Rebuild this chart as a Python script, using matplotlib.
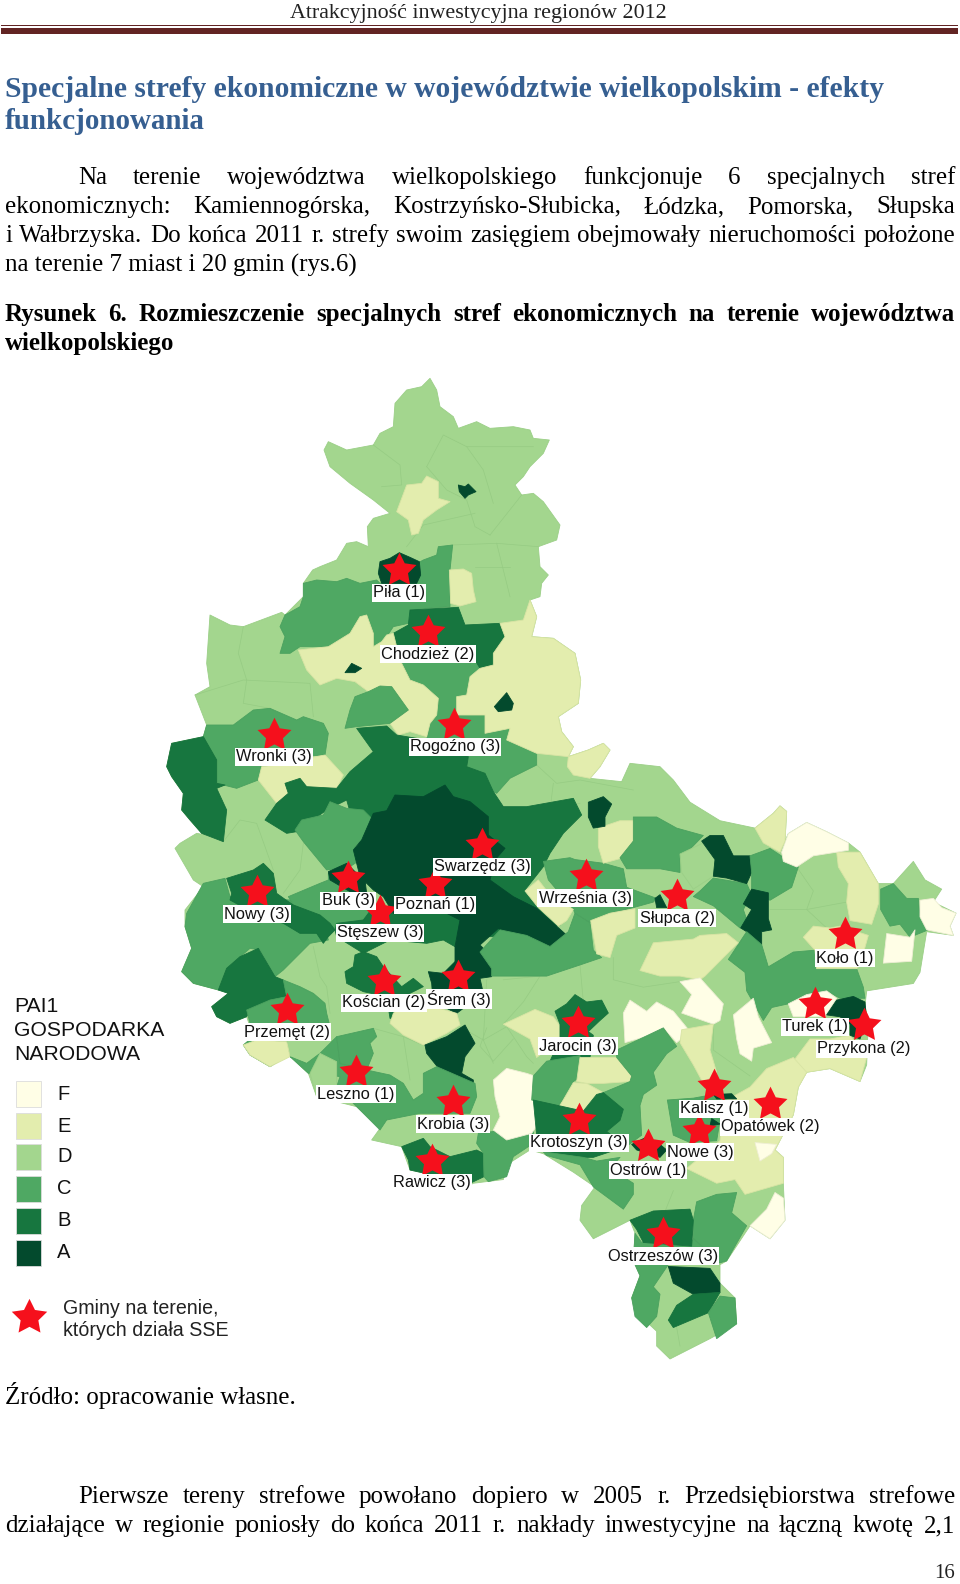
import matplotlib
matplotlib.use("Agg")
import matplotlib.pyplot as plt
from matplotlib.patches import Polygon, Rectangle

# class colours, legend order F..A
class_names = ["F", "E", "D", "C", "B", "A"]
class_colors = {"F": "#fffee6", "E": "#e3edae", "D": "#a3d68e", "C": "#4fa863", "B": "#17763f", "A": "#034a2d"}
edge_colors = {"F": "#eeeed4", "E": "#d8e4a4", "D": "#9bcf87", "C": "#4ba15f", "B": "#16723d", "A": "#034a2d"}

# outline of the voivodeship, traced in three crops of the page
outline_n = [(458,600),(480,590),(530,570),(560,520),(590,515),(625,530),(622,470),(640,445),(690,430),(640,390),(570,340),(510,290),(492,240),(505,215),(560,240),(640,225),(660,190),(700,170),(705,100),(740,60),(785,50),(810,25),(830,60),(840,110),(880,140),(895,175),(950,155),(990,175),(1060,170),(1110,180),(1120,205),(1168,210),(1150,250),(1110,290),(1090,320),(1065,345),(1085,375),(1120,370),(1150,395),(1200,465),(1190,510),(1135,530),(1140,590),(1165,615),(1145,640),(1140,680),(1110,690),(1130,740),(1115,800),(1180,805),(1245,850),(1262,930),(1255,1000),(1195,1040),(1205,1085),(1240,1130),(1225,1160),(1285,1140),(1330,1120),(1350,1140),(1320,1190),(1290,1225),(1385,1235),(1410,1180),(1500,1190)]
outline_e = [(640,0),(690,60),(780,110),(885,130),(940,90),(960,70),(980,85),(975,165),(985,145),(1040,115),(1100,140),(1165,170),(1200,195),(1255,280),(1300,280),(1360,220),(1395,270),(1445,295),(1420,330),(1488,360),(1470,395),(1480,420),(1400,410),(1380,520),(1360,550),(1220,570),(1215,610),(1225,650),(1220,770),(1200,815),(1110,780),(1040,790),(1015,830),(1000,905),(945,1000),(970,1020),(970,1090),(975,1190),(930,1240),(870,1205),(800,1300),(780,1310),(780,1360),(825,1400),(830,1470),(750,1510),(630,1565),(590,1530),(590,1490),(530,1440),(515,1400),(540,1340),(520,1300),(525,1225),(510,1190),(400,1240),(360,1190),(365,1150),(405,1100),(340,1060),(250,1010),(210,1000),(140,1040),(130,1080),(40,1090)]
outline_w = [(930,1215),(840,1190),(750,1170),(725,1100),(635,1080),(660,1045),(590,980),(470,950),(445,880),(385,825),(330,860),(270,825),(250,795),(280,770),(260,710),(210,730),(170,710),(155,680),(205,640),(175,630),(100,610),(65,575),(95,505),(75,440),(75,390),(130,320),(100,300),(45,205),(60,190),(110,160),(165,170)]
outline_nw = [(125,1390),(90,1350),(65,1320),(70,1270),(35,1220),(20,1190),(35,1120),(130,1100),(140,1065),(105,975),(150,950),(140,880),(150,735),(210,765),(250,770),(365,727),(375,735),(430,680),(430,640)]

# gminas in the north crop (160,370, 3x)
north_regions = [
    ("E", [(800,318),(835,335),(835,385),(870,395),(830,420),(790,450),(775,490),(755,495),(745,450),(710,425),(740,345),(785,340)]),
    ("A", [(895,345),(915,350),(925,342),(948,365),(925,375),(915,385),(898,365)]),
    ("C", [(430,640),(470,630),(530,635),(560,625),(600,640),(650,630),(660,640),(790,570),(830,555),(835,530),(878,525),(870,600),(870,710),(800,715),(750,720),(745,760),(700,770),(680,800),(660,825),(640,830),(640,790),(620,735),(600,740),(570,790),(505,830),(420,830),(390,850),(360,850),(375,800),(360,770),(375,735),(420,710),(430,680)]),
    ("A", [(660,575),(690,565),(718,548),(750,562),(778,575),(782,615),(770,640),(665,640),(655,610)]),
    ("E", [(868,600),(910,597),(935,610),(940,660),(948,695),(900,708),(872,700)]),
    ("C", [(720,870),(945,870),(960,895),(930,920),(920,975),(890,980),(890,1035),(975,1035),(975,1090),(1050,1075),(1040,1110),(1130,1150),(1130,1185),(1050,1225),(1010,1270),(1000,1265),(975,1210),(920,1190),(925,1160),(800,1110),(810,1060),(830,1035),(835,985),(790,945),(750,930)]),
    ("B", [(750,720),(895,712),(915,765),(1020,760),(1035,800),(1000,850),(1000,885),(960,895),(945,870),(720,870),(700,790),(745,765)]),
    ("E", [(600,740),(620,735),(640,790),(640,830),(665,815),(680,795),(700,790),(720,870),(750,930),(790,945),(835,985),(830,1035),(810,1060),(800,1100),(750,1085),(715,1095),(690,1060),(745,1020),(695,950),(660,970),(625,965),(585,935),(530,925),(480,945),(440,900),(415,840),(505,830),(570,790)]),
    ("E", [(1110,690),(1130,740),(1115,800),(1180,805),(1245,850),(1262,930),(1255,1000),(1195,1040),(1205,1085),(1240,1130),(1225,1160),(1130,1150),(1040,1110),(1050,1075),(975,1090),(975,1035),(890,1035),(890,980),(920,975),(930,920),(960,895),(1000,885),(1000,850),(1035,800),(1020,760),(1090,750)]),
    ("A", [(1040,968),(1060,1000),(1055,1020),(1015,1025),(1003,1010)]),
    ("A", [(575,880),(605,895),(585,908),(555,908)]),
    ("C", [(660,948),(695,950),(745,1020),(690,1060),(590,1070),(555,1075),(570,1020),(585,980),(625,965)]),
    ("C", [(140,1065),(220,1065),(280,1020),(330,1015),(410,1050),(430,1040),(490,1060),(505,1090),(495,1155),(410,1160),(405,1180),(305,1190),(295,1230),(230,1255),(170,1240),(170,1170),(130,1100)]),
    ("E", [(405,1180),(440,1165),(495,1155),(550,1215),(530,1255),(440,1250),(420,1225),(375,1240),(385,1270),(350,1300),(295,1230),(305,1190)]),
    ("B", [(35,1120),(130,1100),(170,1170),(170,1240),(195,1245),(170,1255),(200,1320),(190,1415),(125,1390),(90,1350),(65,1320),(70,1270),(35,1220),(20,1190)]),
    ("B", [(590,1075),(680,1068),(710,1095),(800,1110),(925,1160),(920,1190),(975,1210),(1000,1265),(1030,1310),(1100,1310),(1240,1285),(1265,1335),(1210,1390),(1170,1450),(1150,1490),(1095,1560),(1130,1610),(1200,1665),(1100,1700),(900,1700),(620,1500),(560,1290),(500,1320),(410,1385),(380,1390),(315,1350),(350,1300),(385,1270),(375,1240),(420,1225),(440,1250),(530,1255),(570,1205),(640,1145)]),
    ("E", [(1225,1160),(1285,1140),(1330,1120),(1350,1140),(1320,1190),(1290,1225),(1240,1215),(1222,1190)]),
]

# gminas in the west crop (160,780, 3x)
west_regions = [
    ("C", [(405,150),(425,120),(490,105),(510,65),(560,85),(610,90),(640,120),(610,175),(585,200),(600,240),(570,260),(500,270),(430,185)]),
    ("C", [(80,400),(130,310),(195,295),(210,350),(390,360),(495,440),(505,480),(450,490),(370,570),(345,590),(300,510),(270,505),(200,565),(175,630),(100,610),(65,575),(95,505),(75,440)]),
    ("C", [(385,350),(480,310),(505,300),(505,280),(620,300),(610,340),(640,380),(610,420),(530,430),(525,450),(510,430),(480,405),(400,375)]),
    ("B", [(200,295),(280,270),(310,250),(340,280),(350,340),(385,365),(400,375),(480,405),(510,430),(525,450),(505,470),(490,490),(470,460),(420,460),(370,430),(300,410),(210,360),(215,340)]),
    ("A", [(505,275),(560,250),(590,280),(615,300),(620,340),(570,335),(510,300)]),
    ("B", [(610,340),(640,370),(700,400),(860,400),(900,420),(885,500),(850,480),(800,490),(690,480),(610,520),(530,470),(525,450),(530,430),(610,420),(640,380)]),
    ("A", [(605,180),(640,100),(680,92),(705,45),(790,50),(855,15),(880,50),(930,65),(985,110),(985,165),(1035,205),(1005,240),(990,300),(1060,350),(1130,385),(1225,470),(1200,505),(1130,508),(1060,480),(1015,445),(960,495),(995,530),(995,590),(960,595),(885,560),(885,500),(900,420),(860,400),(700,400),(670,350),(640,330),(600,290),(580,210)]),
    ("B", [(585,525),(610,515),(650,530),(670,560),(725,620),(760,595),(790,620),(730,650),(720,715),(690,715),(680,650),(610,635),(560,610),(555,575),(580,560)]),
    ("A", [(805,575),(850,580),(885,545),(960,595),(970,640),(890,700),(860,685),(820,680),(815,610)]),
    ("E", [(720,680),(820,680),(890,700),(900,735),(860,760),(790,795),(730,765),(690,730),(700,700)]),
    ("A", [(795,795),(860,770),(915,735),(945,790),(915,830),(905,880),(940,900),(940,912),(860,895),(800,820)]),
    ("B", [(155,680),(205,640),(175,630),(200,565),(240,530),(295,505),(345,590),(370,600),(380,650),(330,660),(270,690),(260,710),(210,730),(170,710)]),
    ("C", [(260,690),(330,660),(380,650),(370,600),(420,620),(460,640),(495,670),(500,700),(510,740),(380,760),(380,800),(390,830),(440,850),(480,820),(530,770),(540,850),(620,870),(690,885),(730,910),(760,960),(790,940),(790,880),(830,860),(945,910),(950,950),(930,1000),(780,1000),(680,1020),(660,1050),(590,980),(530,920),(540,890),(480,880),(445,880),(385,825),(330,860),(270,825),(250,795),(280,770)]),
    ("E", [(250,795),(290,780),(380,785),(390,830),(330,860),(270,825)]),
    ("C", [(530,770),(640,745),(650,770),(630,790),(640,820),(620,870),(540,850)]),
    ("D", [(450,880),(480,820),(530,845),(530,920),(470,950)]),
    ("B", [(725,1100),(790,1075),(810,1100),(870,1130),(950,1110),(970,1120),(972,1190),(930,1210),(840,1190),(750,1170),(745,1140)]),
    ("C", [(955,1060),(1120,1040),(1120,1090),(1060,1130),(1040,1190),(985,1205),(972,1190),(970,1120),(950,1090)]),
    ("F", [(1040,865),(1100,880),(1130,890),(1130,1000),(1150,1010),(1115,1060),(1040,1080),(1000,1050),(1020,1010),(1005,950),(1000,900)]),
]

# gminas in the east crop (460,780, 3x wide, 2.703x high)
east_regions = [
    ("C", [(60,465),(120,405),(200,420),(270,450),(325,410),(345,360),(390,385),(400,460),(425,480),(360,500),(260,530),(95,530),(95,510)]),
    ("C", [(250,220),(330,210),(345,215),(430,225),(490,240),(500,290),(590,320),(580,330),(520,345),(450,360),(390,385),(345,360),(340,350),(265,270)]),
    ("E", [(195,300),(235,270),(265,305),(340,350),(320,380),(295,395),(235,345)]),
    ("E", [(392,380),(450,360),(525,348),(525,400),(470,420),(450,480),(410,470),(400,420)]),
    ("E", [(415,130),(480,110),(525,110),(520,165),(490,210),(430,225),(415,180)]),
    ("A", [(385,60),(430,45),(455,65),(435,100),(435,125),(400,130),(385,100)]),
    ("C", [(520,100),(590,100),(650,130),(730,150),(660,215),(660,250),(600,240),(500,240),(480,210),(520,165)]),
    ("D", [(660,200),(730,170),(765,215),(760,260),(700,295),(665,250)]),
    ("C", [(720,300),(760,265),(860,280),(875,310),(850,350),(865,390),(840,400),(760,340),(700,315)]),
    ("A", [(725,165),(750,150),(790,150),(820,205),(870,205),(875,250),(860,280),(800,265),(760,260),(765,215)]),
    ("C", [(870,205),(930,185),(1015,235),(995,290),(930,325),(875,300),(875,250)]),
    ("A", [(875,295),(925,305),(925,375),(935,405),(905,410),(905,445),(865,440),(860,410),(842,400),(875,350),(850,335)]),
    ("A", [(585,320),(600,310),(620,345),(590,345)]),
    ("C", [(805,485),(860,410),(905,445),(925,505),(1000,465),(1065,460),(1070,510),(1190,510),(1210,560),(1215,590),(1140,590),(1100,570),(985,605),(935,615),(910,650),(860,570),(855,520)]),
    ("E", [(1030,425),(1060,395),(1110,400),(1140,395),(1225,420),(1200,500),(1190,510),(1070,510),(1065,460)]),
    ("E", [(1130,195),(1200,195),(1255,280),(1255,335),(1235,390),(1170,380),(1160,330),(1165,280),(1135,235)]),
    ("C", [(1262,295),(1300,280),(1340,320),(1375,320),(1380,370),(1405,405),(1350,425),(1320,390),(1290,395),(1262,350)]),
    ("F", [(1380,325),(1420,320),(1445,345),(1488,360),(1470,395),(1480,420),(1400,405),(1380,370)]),
    ("F", [(1280,415),(1350,425),(1365,405),(1355,490),(1270,495)]),
    ("F", [(965,195),(985,145),(1040,115),(1100,140),(1165,170),(1165,190),(1060,205),(1010,235),(970,220)]),
    ("E", [(885,130),(940,90),(960,70),(980,85),(975,165),(960,195),(910,170)]),
    ("E", [(580,440),(700,430),(720,420),(800,415),(835,440),(790,480),(735,530),(720,540),(660,530),(600,530),(540,515)]),
    ("F", [(510,595),(560,625),(590,600),(640,625),(690,680),(650,710),(610,670),(570,690),(495,710),(490,630)]),
    ("F", [(660,545),(720,535),(755,570),(790,605),(780,650),(760,660),(665,630),(695,580)]),
    ("F", [(880,590),(895,640),(935,710),(880,725),(875,760),(840,740),(830,700),(820,635)]),
    ("E", [(665,675),(760,660),(750,730),(770,790),(730,820),(700,770),(660,710)]),
    ("F", [(985,605),(1040,580),(1100,570),(1130,590),(1095,640),(1000,640)]),
    ("E", [(1110,700),(1170,690),(1220,750),(1200,815),(1110,780),(1040,790),(1015,830),(1000,760),(1050,700)]),
    ("A", [(1100,635),(1130,595),(1180,585),(1215,600),(1220,650),(1200,700),(1170,690),(1170,660),(1140,640)]),
    ("E", [(870,830),(920,780),(1000,750),(1040,790),(1015,830),(1000,905),(945,1000),(970,1020),(970,1090),(855,1120),(825,1080),(770,1090),(680,1050),(780,975),(790,870)]),
    ("F", [(885,980),(950,985),(935,1010),(900,1030)]),
    ("E", [(130,660),(225,620),(280,640),(300,665),(300,700),(230,750),(210,700),(170,680)]),
    ("B", [(285,625),(320,605),(345,580),(380,600),(425,595),(445,630),(420,650),(385,680),(400,690),(390,750),(270,760),(300,700),(300,660)]),
    ("C", [(260,760),(360,745),(365,800),(340,815),(340,830),(295,880),(215,865),(220,800)]),
    ("E", [(360,750),(470,750),(515,800),(510,815),(430,820),(380,820),(350,815)]),
    ("E", [(340,818),(380,820),(430,845),(410,865),(370,895),(300,880)]),
    ("C", [(470,730),(610,670),(650,720),(620,740),(580,790),(590,825),(550,850),(540,880),(545,960),(500,990),(440,950),(480,920),(490,890),(430,845),(510,815),(515,800),(470,750)]),
    ("B", [(220,865),(295,880),(370,895),(410,850),(430,845),(490,890),(480,920),(440,950),(500,990),(400,1020),(370,1020),(250,1005),(230,960)]),
    ("C", [(622,865),(700,860),(760,850),(790,870),(780,920),(770,975),(690,980),(640,960)]),
    ("A", [(760,850),(815,848),(830,862),(770,862)]),
    ("A", [(755,915),(780,930),(750,935)]),
    ("A", [(515,985),(560,965),(600,985),(620,1000),(600,1020),(530,1000)]),
    ("C", [(250,1005),(370,1020),(410,1030),(480,1020),(450,1050),(520,1090),(520,1120),(490,1160),(400,1100),(360,1040),(260,1015)]),
    ("F", [(945,1115),(970,1130),(975,1190),(930,1240),(870,1205),(920,1160)]),
    ("C", [(770,1120),(830,1115),(815,1170),(860,1205),(825,1260),(800,1300),(780,1305),(700,1240),(700,1190),(710,1140)]),
    ("C", [(525,1225),(545,1250),(690,1260),(700,1240),(780,1305),(625,1310),(580,1370),(600,1390),(590,1450),(560,1480),(525,1450),(515,1400),(540,1340),(520,1300)]),
    ("B", [(510,1190),(580,1165),(690,1160),(700,1190),(695,1260),(550,1250),(530,1215)]),
    ("A", [(625,1315),(750,1320),(780,1360),(780,1385),(700,1390),(640,1360)]),
    ("B", [(650,1420),(700,1390),(780,1385),(745,1440),(640,1480),(625,1460)]),
    ("C", [(780,1395),(825,1400),(830,1470),(770,1510),(745,1440)]),
]

# thin gmina borders inside the pale northern part (north crop)
north_borders = [
    [(640,225),(720,285),(725,345),(665,350)],
    [(800,290),(850,195),(920,230),(1120,230)],
    [(920,230),(970,300),(1000,400)],
    [(800,290),(860,360),(920,390),(945,470),(990,495)],
    [(990,495),(1085,375)],
    [(740,530),(790,465),(945,430)],
    [(875,525),(1010,520),(1135,530)],
    [(1010,520),(1050,680)],
    [(945,590),(1050,590)],
    [(250,770),(235,850),(260,930),(250,1000),(330,1015)],
    [(105,975),(250,930),(450,940),(460,1040)],
    [(1180,805),(1160,880),(1150,1000),(1100,1050)],
    [(1000,885),(1080,880),(1160,930)],
    [(1130,1185),(1190,1240),(1260,1230),(1420,1260)],
    [(1180,1240),(1170,1320),(1260,1300)],
]
# same for the west and east crops
west_borders = [
    [(190,185),(240,120),(290,130),(340,270)],
    [(430,190),(420,270),(370,340)],
    [(460,500),(480,590),(500,620),(510,700)],
    [(980,600),(970,780),(1000,850)],
    [(970,780),(1040,740),(1100,830),(1120,850)],
    [(640,745),(730,770),(800,800)],
    [(730,770),(750,900)],
    [(900,740),(970,780)],
]
east_borders = [
    [(130,540),(240,530),(190,600),(130,660)],
    [(360,500),(370,600)],
    [(460,480),(460,540),(550,560),(660,545)],
    [(80,670),(60,720),(100,760),(160,700)],
    [(1010,235),(1060,300),(1040,350),(1100,400)],
    [(930,350),(1040,350),(1160,330)],
    [(760,650),(760,730),(870,800)],
    [(640,1110),(600,1200)],
    [(650,1480),(660,1530)],
]

# red stars and their labels (page pixels)
gmina_names = ["Piła (1)", "Chodzież (2)", "Rogoźno (3)", "Wronki (3)", "Swarzędz (3)", "Poznań (1)", "Buk (3)", "Stęszew (3)", "Nowy (3)", "Kościan (2)", "Śrem (3)", "Przemęt (2)", "Leszno (1)", "Krobia (3)", "Rawicz (3)", "Września (3)", "Słupca (2)", "Koło (1)", "Turek (1)", "Przykona (2)", "Jarocin (3)", "Kalisz (1)", "Opatówek (2)", "Nowe (3)", "Krotoszyn (3)", "Ostrów (1)", "Ostrzeszów (3)"]
star_x = [399, 428, 454, 274, 482, 435, 348, 380, 257, 384, 458, 287, 356, 453, 432, 586, 677, 845, 815, 864, 578, 714, 770, 699, 579, 648, 663]
star_y = [570, 632, 725, 735, 845, 884, 878, 912, 892, 981, 977, 1010, 1072, 1102, 1161, 876, 896, 934, 1004, 1025, 1023, 1086, 1104, 1131, 1120, 1146, 1234]
label_x = [399, 428, 455, 274, 482, 435, 348, 380, 257, 384, 459, 287, 356, 453, 432, 585, 677, 845, 815, 864, 578, 714, 770, 700, 579, 648, 663]
label_y = [593, 654, 747, 757, 867, 905, 901, 933, 914, 1003, 999, 1032, 1094, 1124, 1183, 898, 918, 958, 1027, 1049, 1046, 1109, 1127, 1152, 1143, 1170, 1256]

# page text
header = "Atrakcyjność inwestycyjna regionów 2012"
title_lines = ["Specjalne strefy ekonomiczne w województwie wielkopolskim - efekty", "funkcjonowania"]
para_top = ["Na terenie województwa wielkopolskiego funkcjonuje 6 specjalnych stref",
            "ekonomicznych: Kamiennogórska, Kostrzyńsko-Słubicka, Łódzka, Pomorska, Słupska",
            "i Wałbrzyska. Do końca 2011 r. strefy swoim zasięgiem obejmowały nieruchomości położone"]
para_top_last = "na terenie 7 miast i 20 gmin (rys.6)"
caption = "Rysunek 6. Rozmieszczenie specjalnych stref ekonomicznych na terenie województwa"
caption_last = "wielkopolskiego"
source = "Źródło: opracowanie własne."
para_bottom = ["Pierwsze tereny strefowe powołano dopiero w 2005 r. Przedsiębiorstwa strefowe",
               "działające w regionie poniosły do końca 2011 r. nakłady inwestycyjne na łączną kwotę 2,1"]


def north_px(pts):
    return [(160 + x / 3, 370 + y / 3) for x, y in pts]


def west_px(pts):
    return [(160 + x / 3, 780 + y / 3) for x, y in pts]


def east_px(pts):
    return [(460 + x / 3, 780 + y / 2.703) for x, y in pts]


fig = plt.figure(figsize=(9.6, 15.84), dpi=100)
ax = fig.add_axes([0, 0, 1, 1])
ax.set_xlim(0, 960)
ax.set_ylim(1584, 0)
ax.axis("off")
renderer = fig.canvas.get_renderer()


def draw_region(cls, pts, z):
    ax.add_patch(Polygon(pts, closed=True, facecolor=class_colors[cls], edgecolor=edge_colors[cls], linewidth=0.6, joinstyle="round", zorder=z))


outline = north_px(outline_n) + east_px(outline_e) + west_px(outline_w) + north_px(outline_nw)
draw_region("D", outline, 1)
for pts in north_borders:
    xy = north_px(pts)
    ax.plot([p[0] for p in xy], [p[1] for p in xy], color="#96cb83", lw=0.5, zorder=1.5)
for pts in west_borders:
    xy = west_px(pts)
    ax.plot([p[0] for p in xy], [p[1] for p in xy], color="#96cb83", lw=0.5, zorder=1.5)
for pts in east_borders:
    xy = east_px(pts)
    ax.plot([p[0] for p in xy], [p[1] for p in xy], color="#96cb83", lw=0.5, zorder=1.5)

z = 2
for cls, pts in north_regions:
    draw_region(cls, north_px(pts), z)
    z += 0.01
for cls, pts in west_regions:
    draw_region(cls, west_px(pts), z)
    z += 0.01
for cls, pts in east_regions:
    draw_region(cls, east_px(pts), z)
    z += 0.01

ax.scatter(star_x, star_y, marker=(5, 1), s=660, color="#f5101c", linewidths=0, zorder=5)
for name, x, y in zip(gmina_names, label_x, label_y):
    ax.text(x, y, name, family="Liberation Sans", fontsize=11.8, color="#111111", ha="center", va="center", zorder=6,
            bbox=dict(facecolor="white", edgecolor="none", pad=0.8))

# legend
ax.text(14, 1007, "PAI1", family="Liberation Sans", fontsize=15.2, color="#111111", va="center")
ax.text(14, 1031, "GOSPODARKA", family="Liberation Sans", fontsize=15.2, color="#111111", va="center")
ax.text(14, 1055, "NARODOWA", family="Liberation Sans", fontsize=15.2, color="#111111", va="center")
swatch_top = [1081, 1113, 1144, 1176, 1208, 1240]
for name, top in zip(class_names, swatch_top):
    ax.add_patch(Rectangle((16, top), 25, 26, facecolor=class_colors[name], edgecolor="#dcdcdc", linewidth=0.6))
    ax.text(57, top + 13, name, family="Liberation Sans", fontsize=14.5, color="#111111", va="center")
ax.scatter([29], [1317], marker=(5, 1), s=720, color="#f5101c", linewidths=0)
ax.text(63, 1309, "Gminy na terenie,", family="Liberation Sans", fontsize=14.1, color="#222222", va="center")
ax.text(63, 1331, "których działa SSE", family="Liberation Sans", fontsize=14.1, color="#222222", va="center")


def fit_text(s, x0, x1, y, **kw):
    # scale the font so the line spans x0..x1
    t = ax.text(x0, y, s, va="baseline", **kw)
    w = t.get_window_extent(renderer).width
    t.set_fontsize(t.get_fontsize() * (x1 - x0) / w)
    return t


def justify(s, x0, x1, y, size, **kw):
    # word by word, like a justified paragraph line
    words = s.split(" ")
    items = [ax.text(0, y, w, fontsize=size, va="baseline", **kw) for w in words]
    widths = [t.get_window_extent(renderer).width for t in items]
    gap = (x1 - x0 - sum(widths)) / (len(words) - 1)
    x = x0
    for t, w in zip(items, widths):
        t.set_x(x)
        x += w + gap


serif = "Liberation Serif"
fit_text(header, 290, 669, 18, family=serif, fontsize=14, color="#222222")
ax.add_patch(Rectangle((1, 25), 957, 1.2, facecolor="#622423", edgecolor="none"))
ax.add_patch(Rectangle((1, 28), 957, 6, facecolor="#622423", edgecolor="none"))
fit_text(title_lines[0], 5, 885, 97, family=serif, weight="bold", fontsize=18, color="#365f91")
fit_text(title_lines[1], 5, 205, 129, family=serif, weight="bold", fontsize=18, color="#365f91")
body = fit_text(para_top_last, 5, 357, 272, family=serif, fontsize=16, color="black").get_fontsize()
justify(para_top[0], 78, 955, 184, body, family=serif, color="black")
justify(para_top[1], 5, 955, 213, body, family=serif, color="black")
justify(para_top[2], 5, 955, 242, body, family=serif, color="black")
caption_size = fit_text(caption_last, 5, 175, 350, family=serif, weight="bold", fontsize=16, color="black").get_fontsize()
justify(caption, 5, 955, 321, caption_size, family=serif, weight="bold", color="black")
fit_text(source, 5, 296, 1404, family=serif, fontsize=16, color="black")
justify(para_bottom[0], 78, 955, 1503, body, family=serif, color="black")
justify(para_bottom[1], 5, 955, 1532, body, family=serif, color="black")
ax.text(955, 1578, "16", family=serif, fontsize=15, color="#222222", ha="right", va="baseline")

fig.savefig("out.png", dpi=100)
